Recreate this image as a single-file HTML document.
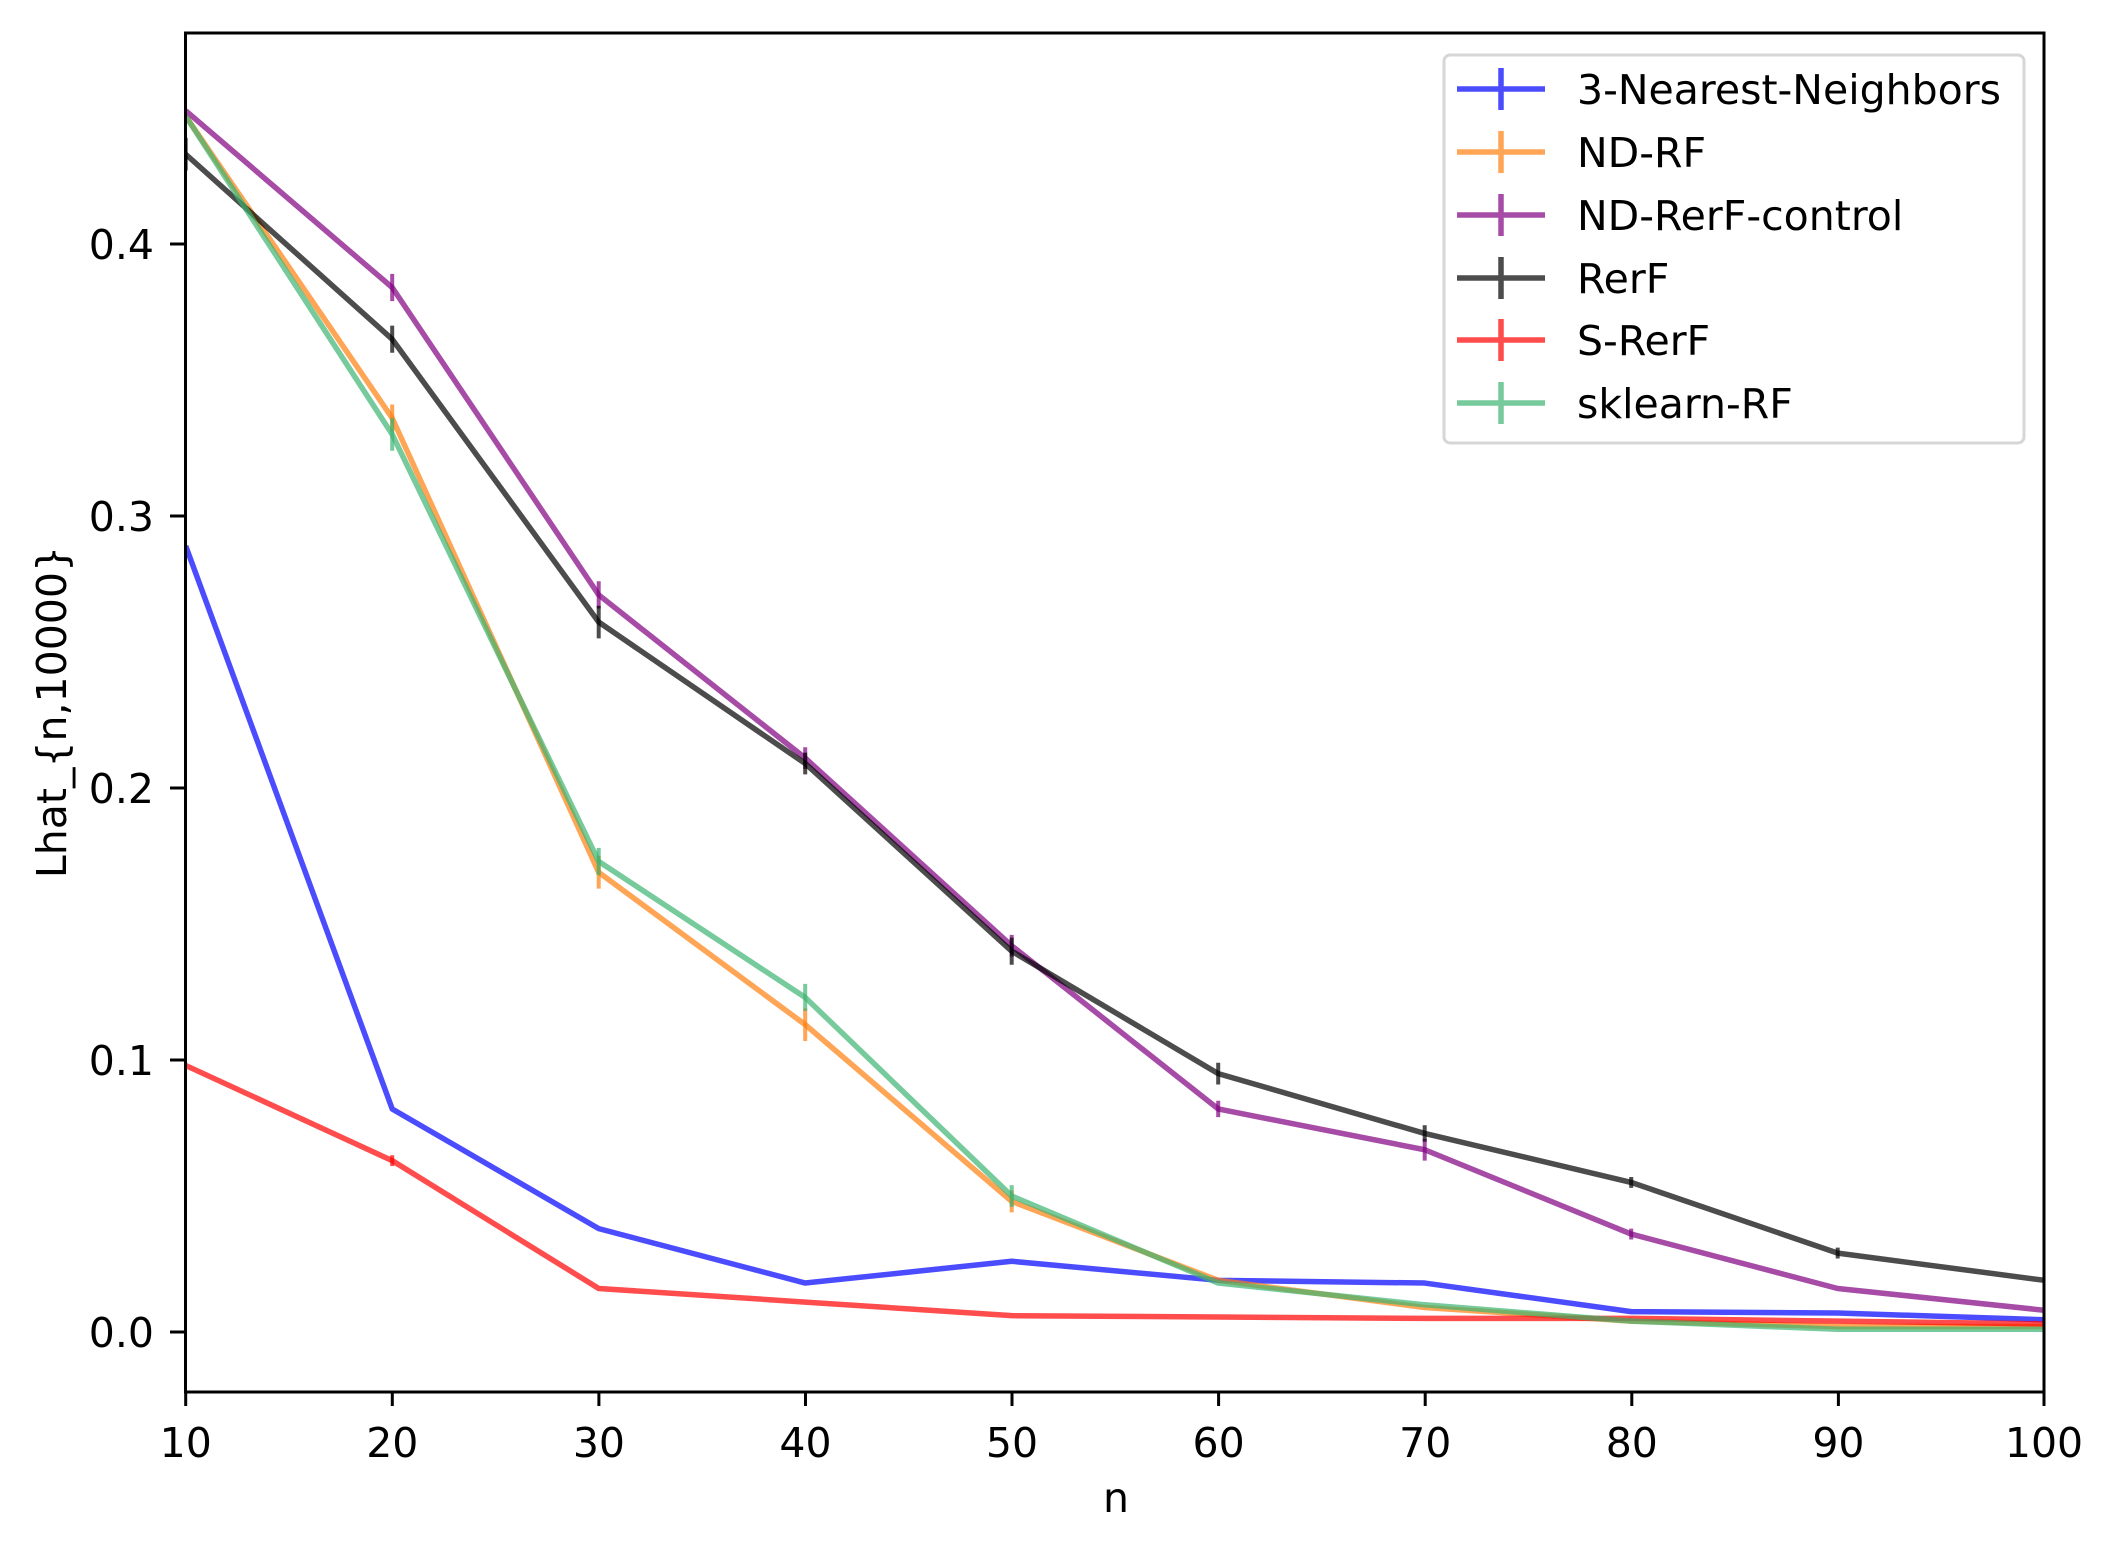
<!DOCTYPE html>
<html><head><meta charset="utf-8"><style>html,body{margin:0;padding:0;background:#fff}svg{display:block}text{font-family:"DejaVu Sans","Liberation Sans",sans-serif;font-size:41px;fill:#000}</style></head>
<body>
<svg width="2114" height="1552" viewBox="0 0 2114 1552" xmlns="http://www.w3.org/2000/svg">
<rect width="2114" height="1552" fill="#fff"/>
<defs><clipPath id="c"><rect x="185" y="33" width="1859" height="1359"/></clipPath></defs>
<g clip-path="url(#c)">
<g transform="translate(185.7,1332) scale(20.65,-2720)" fill="none" stroke-width="5.5" stroke-linejoin="round">
<g stroke="#0000ff" stroke-opacity="0.7">
<polyline vector-effect="non-scaling-stroke" points="0,0.289 10,0.082 20,0.038 30,0.018 40,0.026 50,0.019 60,0.018 70,0.0075 80,0.007 90,0.0045"/>
</g>
<g stroke="#ff7f0e" stroke-opacity="0.7">
<polyline vector-effect="non-scaling-stroke" points="0,0.447 10,0.336 20,0.169 30,0.113 40,0.048 50,0.019 60,0.009 70,0.004 80,0.002 90,0.002"/>
<path vector-effect="non-scaling-stroke" stroke-width="4" d="M10,0.331V0.341M20,0.163V0.175M30,0.107V0.119M40,0.044V0.052"/>
</g>
<g stroke="#800080" stroke-opacity="0.7">
<polyline vector-effect="non-scaling-stroke" points="0,0.449 10,0.384 20,0.271 30,0.211 40,0.142 50,0.082 60,0.067 70,0.036 80,0.016 90,0.008"/>
<path vector-effect="non-scaling-stroke" stroke-width="4" d="M10,0.379V0.389M20,0.266V0.276M30,0.207V0.215M40,0.138V0.146M50,0.079V0.085M60,0.063V0.071M70,0.034V0.038"/>
</g>
<g stroke="#000" stroke-opacity="0.7">
<polyline vector-effect="non-scaling-stroke" points="0,0.433 10,0.365 20,0.261 30,0.209 40,0.140 50,0.095 60,0.073 70,0.055 80,0.029 90,0.019"/>
<path vector-effect="non-scaling-stroke" stroke-width="4" d="M0,0.427V0.439M10,0.360V0.370M20,0.255V0.267M30,0.205V0.213M40,0.135V0.145M50,0.091V0.099M60,0.070V0.076M70,0.053V0.057M80,0.027V0.031"/>
</g>
<g stroke="#ff0000" stroke-opacity="0.7">
<polyline vector-effect="non-scaling-stroke" points="0,0.098 10,0.063 20,0.016 30,0.011 40,0.006 50,0.0055 60,0.005 70,0.005 80,0.004 90,0.003"/>
<path vector-effect="non-scaling-stroke" stroke-width="4" d="M10,0.061V0.065"/>
</g>
<g stroke="#3cb371" stroke-opacity="0.7">
<polyline vector-effect="non-scaling-stroke" points="0,0.447 10,0.330 20,0.173 30,0.123 40,0.050 50,0.018 60,0.010 70,0.004 80,0.001 90,0.001"/>
<path vector-effect="non-scaling-stroke" stroke-width="4" d="M10,0.324V0.336M20,0.168V0.178M30,0.118V0.128M40,0.046V0.054"/>
</g>
</g>
</g>
<rect x="185.5" y="33" width="1858.5" height="1359" fill="none" stroke="#000" stroke-width="3"/>
<g stroke="#000" stroke-width="3">
<path d="M185.7,1392v14M392.3,1392v14M598.9,1392v14M805.5,1392v14M1012,1392v14M1218.6,1392v14M1425.2,1392v14M1631.8,1392v14M1838.4,1392v14M2044,1392v14"/>
<path d="M185,1332h-15M185,1060h-15M185,788h-15M185,516h-15M185,244h-15"/>
</g>
<g text-anchor="middle">
<text x="185.7" y="1457">10</text><text x="392.3" y="1457">20</text><text x="598.9" y="1457">30</text><text x="805.5" y="1457">40</text><text x="1012" y="1457">50</text><text x="1218.6" y="1457">60</text><text x="1425.2" y="1457">70</text><text x="1631.8" y="1457">80</text><text x="1838.4" y="1457">90</text><text x="2044" y="1457">100</text>
<text x="1116" y="1512">n</text>
<text transform="translate(66,712) rotate(-90)" x="0" y="0">Lhat_{n,10000}</text>
</g>
<g text-anchor="end">
<text x="154" y="1347">0.0</text><text x="154" y="1075">0.1</text><text x="154" y="803">0.2</text><text x="154" y="531">0.3</text><text x="154" y="259">0.4</text>
</g>
<rect x="1444" y="55" width="580" height="388" rx="6" fill="#fff" fill-opacity="0.8" stroke="#d6d6d6" stroke-width="3"/>
<g stroke-width="5.5" stroke-opacity="0.7">
<path d="M1457,89h88M1501,68v42" stroke="#0000ff"/>
<path d="M1457,152h88M1501,131v42" stroke="#ff7f0e"/>
<path d="M1457,215h88M1501,194v42" stroke="#800080"/>
<path d="M1457,278h88M1501,257v42" stroke="#000"/>
<path d="M1457,340h88M1501,319v42" stroke="#ff0000"/>
<path d="M1457,403h88M1501,382v42" stroke="#3cb371"/>
</g>
<text x="1577" y="104">3-Nearest-Neighbors</text>
<text x="1577" y="167">ND-RF</text>
<text x="1577" y="230">ND-RerF-control</text>
<text x="1577" y="293">RerF</text>
<text x="1577" y="355">S-RerF</text>
<text x="1577" y="418">sklearn-RF</text>
</svg>
</body></html>
